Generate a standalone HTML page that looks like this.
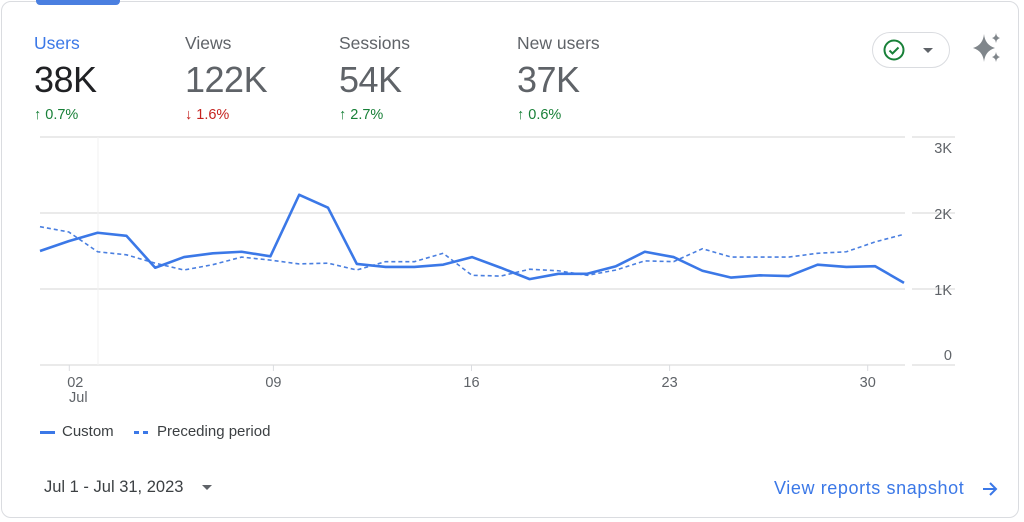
<!DOCTYPE html>
<html><head><meta charset="utf-8"><style>
body{margin:0;width:1024px;height:522px;background:#fff;font-family:"Liberation Sans",sans-serif;overflow:hidden;position:relative}
.card{position:absolute;left:1px;top:1px;width:1018px;height:517px;border:1px solid #dadce0;border-radius:10px;box-sizing:border-box}
.tab{position:absolute;left:36px;top:0;width:84px;height:5px;background:#4a7fe0;border-radius:0 0 4px 4px}
.m{position:absolute;top:33px}
.m .l{font-size:17.5px;color:#5f6368}
.m .v{font-size:36px;color:#5f6368;margin-top:5px;letter-spacing:-0.5px}
.m .c{font-size:14.5px;margin-top:6px;color:#188038}
</style></head><body>
<div class="card"></div>
<div class="tab"></div>
<div class="m" style="left:34px"><div class="l" style="color:#3b78e7">Users</div><div class="v" style="color:#202124">38K</div><div class="c"><b>↑</b> 0.7%</div></div>
<div class="m" style="left:185px"><div class="l">Views</div><div class="v">122K</div><div class="c" style="color:#c5221f"><b>↓</b> 1.6%</div></div>
<div class="m" style="left:339px"><div class="l">Sessions</div><div class="v">54K</div><div class="c"><b>↑</b> 2.7%</div></div>
<div class="m" style="left:517px"><div class="l">New users</div><div class="v">37K</div><div class="c"><b>↑</b> 0.6%</div></div>
<div style="position:absolute;left:872px;top:32px;width:78px;height:36px;border:1px solid #dadce0;border-radius:18px;box-sizing:border-box">
<svg width="78" height="36" style="position:absolute;left:-1px;top:-1px"><circle cx="22" cy="18" r="9.5" fill="none" stroke="#188038" stroke-width="2"/><path d="M17.5 18.5l3 3 6-6" fill="none" stroke="#188038" stroke-width="2"/><path d="M51 16h10l-5 5z" fill="#5f6368"/></svg></div>
<svg style="position:absolute;left:970px;top:30px" width="36" height="36"><path d="M14 4 Q15 15 25 18 Q15 21 14 32 Q13 21 3 18 Q13 15 14 4Z" fill="#80868b"/><path d="M26 3 Q26.5 7 30 8 Q26.5 9 26 13 Q25.5 9 22 8 Q25.5 7 26 3Z" fill="#80868b"/><path d="M26 22 Q26.5 26 30 27 Q26.5 28 26 32 Q25.5 28 22 27 Q25.5 26 26 22Z" fill="#80868b"/></svg>
<svg id="chart" style="position:absolute;left:0;top:0" width="1024" height="420"></svg>
<div style="position:absolute;left:40px;top:423px;font-size:15px;color:#3c4043"><span style="display:inline-block;width:15px;height:3px;background:#3b78e7;vertical-align:middle;margin-right:7px"></span>Custom</div>
<div style="position:absolute;left:134px;top:423px;font-size:15px;color:#3c4043"><span style="display:inline-block;width:16px;height:3px;background:linear-gradient(90deg,#3b78e7 0 5px,transparent 5px 9px,#3b78e7 9px 14px,transparent 14px);vertical-align:middle;margin-right:7px"></span>Preceding period</div>
<div style="position:absolute;left:44px;top:478px;font-size:16.5px;color:#3c4043">Jul 1 - Jul 31, 2023 <span style="display:inline-block;margin-left:14px;border:5px solid transparent;border-top:5px solid #5f6368;vertical-align:-3px"></span></div>
<div style="position:absolute;left:774px;top:478px;font-size:18px;letter-spacing:0.6px;color:#3b78e7">View reports snapshot</div>
<svg style="position:absolute;left:980px;top:479px" width="20" height="20"><path d="M3 10h13M10 4l6 6-6 6" fill="none" stroke="#3b78e7" stroke-width="2"/></svg>
<script>
const days=[1,2,3,4,5,6,7,8,9,10,11,12,13,14,15,16,17,18,19,20,21,22,23,24,25,26,27,28,29,30,31];
const custom=[1500,1630,1740,1700,1280,1420,1470,1490,1430,2240,2070,1330,1290,1290,1320,1420,1280,1130,1200,1200,1300,1490,1420,1240,1150,1180,1170,1320,1290,1300,1080];
const preceding=[1820,1750,1490,1450,1340,1250,1320,1420,1380,1330,1340,1250,1360,1360,1470,1180,1170,1260,1240,1180,1250,1370,1360,1530,1420,1420,1420,1470,1490,1620,1720];
const yTicks=[0,1000,2000,3000];
const yTickLabels=["0","1K","2K","3K"];
const xTickDays=[2,9,16,23,30];
const xTickLabels=["02","09","16","23","30"];
const svg=document.getElementById('chart');const NS='http://www.w3.org/2000/svg';
const X=d=>40+(d-1)*28.8, Y=v=>365-v*0.0760;
const XL=d=>47+(d-1)*28.3;
function mk(t,a){const e=document.createElementNS(NS,t);for(const k in a)e.setAttribute(k,a[k]);svg.appendChild(e);return e;}
yTicks.forEach((v,i)=>{
let g=mk('line',{x1:40,x2:905,y1:Y(v),y2:Y(v),stroke:'#e3e3e3','stroke-width':1.5});


let g2=mk('line',{x1:912,x2:955,y1:Y(v),y2:Y(v),stroke:'#e3e3e3','stroke-width':1.5});


let t=mk('text',{x:952,y:v==0?Y(v)-5:Y(v)+(v==3000?16:6),'text-anchor':'end','font-size':14.5,fill:'#5f6368','font-family':'Liberation Sans'});
t.textContent=yTickLabels[i];


});
let vl=mk('line',{x1:98,x2:98,y1:137,y2:365,stroke:'#f1f1f1','stroke-width':1});


xTickDays.forEach((d,i)=>{
let tk=mk('line',{x1:XL(d)-(i==0?6:0),x2:XL(d)-(i==0?6:0),y1:365,y2:371,stroke:'#dadce0'});


let t=mk('text',{x:XL(d),y:387,'text-anchor':'middle','font-size':14.5,fill:'#5f6368','font-family':'Liberation Sans'});
t.textContent=xTickLabels[i];


});
let jl=mk('text',{x:69,y:402,'font-size':14.5,fill:'#5f6368','font-family':'Liberation Sans'});jl.textContent='Jul';


let pp=mk('polyline',{points:days.map((d,i)=>X(d)+','+Y(preceding[i])).join(' '),fill:'none',stroke:'#4a7fe0','stroke-width':1.6,'stroke-dasharray':'4 3'});


let cl=mk('polyline',{points:days.map((d,i)=>X(d)+','+Y(custom[i])).join(' '),fill:'none',stroke:'#3b78e7','stroke-width':2.6,'stroke-linejoin':'round'});


</script>
</body></html>
